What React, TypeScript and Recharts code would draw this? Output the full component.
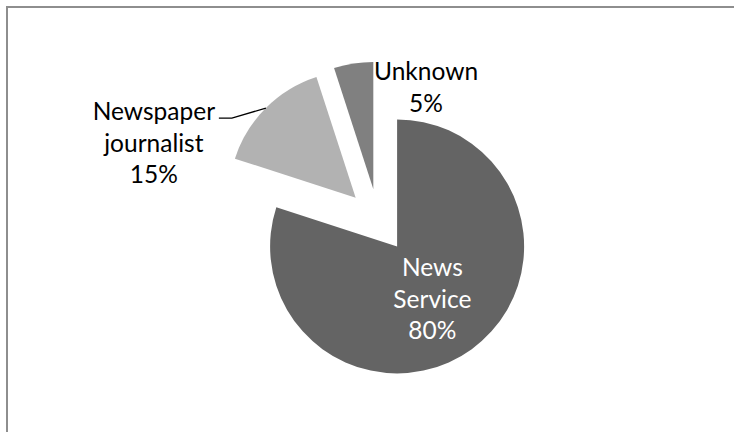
import React from 'react';
import { PieChart, Pie, Cell } from 'recharts';

const categories = ['News Service', 'Newspaper journalist', 'Unknown'];
const shares = [80, 15, 5];
const labelLines = [
  ['News', 'Service', '80%'],
  ['Newspaper', 'journalist', '15%'],
  ['Unknown', '5%'],
];
const colors = ['#646464', '#b2b2b2', '#808080'];

const data = categories.map((name, i) => ({ name, value: shares[i] }));

const W = 726;
const H = 424;
const CX = 370.3;
const CY = 212.5;
const R = 127;
const EXPLODE = 32;
const RAD = Math.PI / 180;
const FONT = 'Lato, "Open Sans", sans-serif';
const FS = 24.5;
const LH = 31.5;

const total = shares.reduce((a, b) => a + b, 0);
const midAngles: number[] = [];
{
  let cum = 0;
  shares.forEach((v) => {
    midAngles.push(90 - ((cum + v / 2) / total) * 360);
    cum += v;
  });
}

const dirOf = (ang: number) => ({ x: Math.cos(-ang * RAD), y: Math.sin(-ang * RAD) });

function makeLabel(target: number) {
  return (props: any) => {
    const { cx, cy, midAngle, index } = props;
    if (index !== target) return null;
    const d = dirOf(midAngle);
    const lines = labelLines[index];
    if (index === 0) {
      const px = cx + 60 * d.x;
      const py = cy + 63 * d.y;
      return (
        <text x={px} textAnchor="middle" fill="#ffffff" fontFamily={FONT} fontSize={FS}>
          {lines.map((l, k) => (
            <tspan key={k} x={px} y={py + 10.6 + (k - 1) * LH}>{l}</tspan>
          ))}
        </text>
      );
    }
    const ax = cx + R * d.x;
    const ay = cy + R * d.y;
    if (index === 1) {
      const tx = ax - 112;
      return (
        <g>
          <path d={`M${ax},${ay} L${ax - 34},${ay + 10} L${ax - 47},${ay + 10}`} stroke="#000" strokeWidth={1.3} fill="none" />
          <text textAnchor="middle" fill="#000" fontFamily={FONT} fontSize={FS}>
            {lines.map((l, k) => (
              <tspan key={k} x={tx} y={ay + 12 + k * LH}>{l}</tspan>
            ))}
          </text>
        </g>
      );
    }
    const tx = ax + 72.6;
    return (
      <text textAnchor="middle" fill="#000" fontFamily={FONT} fontSize={FS}>
        {lines.map((l, k) => (
          <tspan key={k} x={tx} y={ay + 16.6 + k * 32}>{l}</tspan>
        ))}
      </text>
    );
  };
}

export default function App() {
  return (
    <div
      style={{
        position: 'absolute',
        left: 6,
        top: 6,
        width: W,
        height: H,
        borderLeft: '2px solid #8e8e8e',
        borderTop: '2px solid #8e8e8e',
        background: '#fff',
      }}
    >
      <PieChart width={W} height={H} margin={{ top: 0, right: 0, bottom: 0, left: 0 }}>
        {data.map((_, target) => {
          const d = dirOf(midAngles[target]);
          return (
            <Pie
              key={target}
              data={data}
              dataKey="value"
              nameKey="name"
              cx={CX + EXPLODE * d.x}
              cy={CY + EXPLODE * d.y}
              outerRadius={R}
              innerRadius={0}
              startAngle={90}
              endAngle={-270}
              stroke="none"
              isAnimationActive={false}
              labelLine={false}
              label={makeLabel(target)}
            >
              {data.map((__, i) => (
                <Cell key={i} fill={i === target ? colors[i] : 'transparent'} stroke="none" />
              ))}
            </Pie>
          );
        })}
      </PieChart>
    </div>
  );
}
